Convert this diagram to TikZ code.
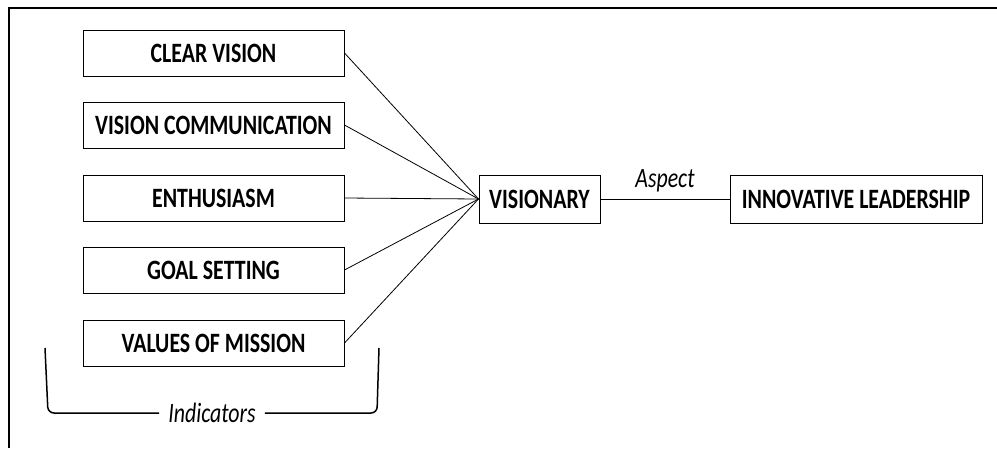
\documentclass[tikz,border=0pt]{standalone}
\usepackage{fontspec}
\usepackage{tikz}
\newfontfamily\diagfont[FakeStretch=0.78]{Carlito}

\begin{document}
\begin{tikzpicture}[x=1pt, y=-1pt,
    indbox/.style={draw, line width=1pt, minimum width=261pt, minimum height=46pt, inner sep=0pt, font=\diagfont\bfseries\fontsize{28}{32}\selectfont},
    aspbox/.style={draw, line width=1pt, minimum height=48pt, inner sep=0pt, font=\diagfont\bfseries\fontsize{28}{32}\selectfont},
    lbl/.style={font=\diagfont\itshape\fontsize{28}{32}\selectfont, inner sep=0pt}]
    \useasboundingbox (0,0) rectangle (997,448);
    % frame
    \draw[line width=1.8pt] (997,8) -- (9,8) -- (9,448);
    % indicators
    \node[indbox] (clear) at (213.5,53) {CLEAR VISION};
    \node[indbox] (comm) at (213.5,125) {VISION COMMUNICATION};
    \node[indbox] (enth) at (213.5,198) {ENTHUSIASM};
    \node[indbox] (goal) at (213.5,270) {GOAL SETTING};
    \node[indbox] (values) at (213.5,343) {VALUES OF MISSION};
    % aspect and variable
    \node[aspbox, minimum width=121pt] (vis) at (539.5,199) {VISIONARY};
    \node[aspbox, minimum width=252pt] (inno) at (856,199) {INNOVATIVE LEADERSHIP};
    \foreach \n in {clear,comm,enth,goal,values}
        \draw[line width=0.8pt] (\n.east) -- (vis.west);
    \draw[line width=0.9pt] (vis) -- node[lbl, above=7pt] (asp) {Aspect} (inno);
    % bracket
    \node[lbl] (ind) at (212,413) {Indicators};
    \draw[line width=1.5pt, rounded corners=6pt] (ind.west) ++(-9,0) -- (48,413) -- (45,348);
    \draw[line width=1.5pt, rounded corners=6pt] (ind.east) ++(9,0) -- (377,413) -- (379,348);
\end{tikzpicture}
\end{document}
